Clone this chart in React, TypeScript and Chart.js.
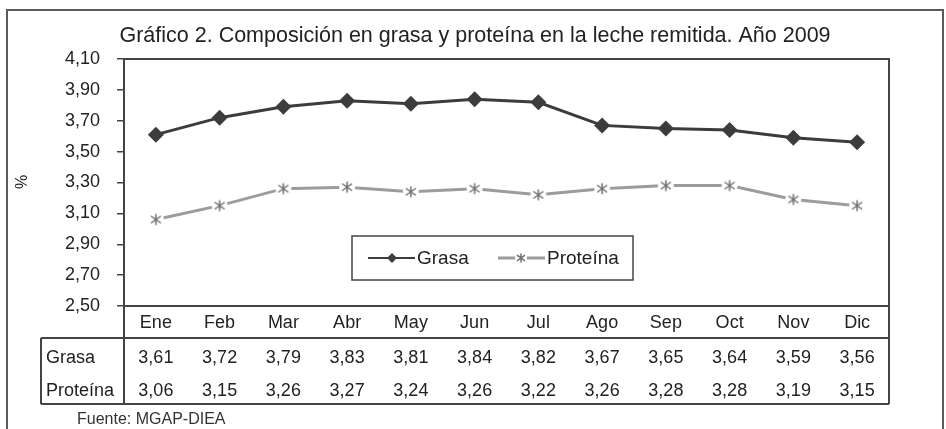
import React, { useEffect, useRef } from 'react';
import { Chart, registerables } from 'chart.js';

Chart.register(...registerables);

const months = ['Ene', 'Feb', 'Mar', 'Abr', 'May', 'Jun', 'Jul', 'Ago', 'Sep', 'Oct', 'Nov', 'Dic'];
const grasa = [3.61, 3.72, 3.79, 3.83, 3.81, 3.84, 3.82, 3.67, 3.65, 3.64, 3.59, 3.56];
const proteina = [3.06, 3.15, 3.26, 3.27, 3.24, 3.26, 3.22, 3.26, 3.28, 3.28, 3.19, 3.15];
const yTicks = [2.5, 2.7, 2.9, 3.1, 3.3, 3.5, 3.7, 3.9, 4.1];
const seriesNames = ['Grasa', 'Proteína'];
const chartTitle = 'Gráfico 2. Composición en grasa y proteína en la leche remitida. Año 2009';
const yTitle = '%';
const sourceText = 'Fuente: MGAP-DIEA';

const FONT = '"Liberation Sans", Arial, sans-serif';
const TEXT = '#222222';
const DARK = '#3c3c3c';
const GREY_LINE = '#9c9c9c';
const GREY_MARK = '#707070';

const fmt = (v: number) => v.toFixed(2).replace('.', ',');

function makeStar(size: number, disc: number, arm: number): HTMLCanvasElement {
  const c = document.createElement('canvas');
  c.width = size;
  c.height = size;
  const g = c.getContext('2d')!;
  const m = size / 2;
  g.fillStyle = '#ffffff';
  g.beginPath();
  g.arc(m, m, disc, 0, Math.PI * 2);
  g.fill();
  g.strokeStyle = GREY_MARK;
  g.lineWidth = 1.5;
  g.beginPath();
  g.moveTo(m, m - arm * 1.1);
  g.lineTo(m, m + arm * 1.1);
  g.moveTo(m - arm, m - arm * 0.7);
  g.lineTo(m + arm, m + arm * 0.7);
  g.moveTo(m + arm, m - arm * 0.7);
  g.lineTo(m - arm, m + arm * 0.7);
  g.stroke();
  return c;
}

export default function App() {
  const ref = useRef<HTMLCanvasElement | null>(null);

  useEffect(() => {
    if (!ref.current) return;
    const star = makeStar(20, 8, 5);
    const legendStar = makeStar(16, 6, 4);

    const decor = {
      id: 'decor',
      afterDraw(chart: any) {
        const { ctx, chartArea: a } = chart;
        const x = chart.scales.x;
        ctx.save();

        // outer frame
        ctx.strokeStyle = '#5a5a5a';
        ctx.lineWidth = 2;
        ctx.strokeRect(7, 10, 936, 440);

        // title
        ctx.fillStyle = TEXT;
        ctx.font = `21.5px ${FONT}`;
        ctx.textAlign = 'center';
        ctx.textBaseline = 'middle';
        ctx.fillText(chartTitle, 475, 36);

        // y title
        ctx.save();
        ctx.translate(23, 182);
        ctx.rotate(-Math.PI / 2);
        ctx.font = `16px ${FONT}`;
        ctx.fillText(yTitle, 0, 0);
        ctx.restore();

        // plot frame
        ctx.strokeStyle = '#444';
        ctx.lineWidth = 2;
        ctx.strokeRect(a.left, a.top, a.right - a.left, a.bottom - a.top);

        // data table
        const tableLeft = 41;
        const rowTop = a.bottom + 32;
        const rowH = 33;
        const tableBottom = rowTop + rowH * 2;
        ctx.beginPath();
        ctx.moveTo(tableLeft, rowTop);
        ctx.lineTo(a.right, rowTop);
        ctx.moveTo(tableLeft, tableBottom);
        ctx.lineTo(a.right, tableBottom);
        ctx.moveTo(tableLeft, rowTop);
        ctx.lineTo(tableLeft, tableBottom);
        ctx.moveTo(a.left, a.bottom);
        ctx.lineTo(a.left, tableBottom);
        ctx.moveTo(a.right, a.bottom);
        ctx.lineTo(a.right, tableBottom);
        ctx.stroke();

        ctx.font = `18px ${FONT}`;
        ctx.fillStyle = TEXT;
        ctx.textBaseline = 'middle';
        const rows = [grasa, proteina];
        rows.forEach((vals, r) => {
          const cy = rowTop + rowH * r + 20;
          ctx.textAlign = 'left';
          ctx.fillText(seriesNames[r], 46, cy);
          ctx.textAlign = 'center';
          vals.forEach((v, i) => ctx.fillText(fmt(v), x.getPixelForValue(i), cy));
        });

        // legend
        const lx = 352, ly = 236, lw = 281, lh = 44;
        ctx.fillStyle = '#fff';
        ctx.fillRect(lx, ly, lw, lh);
        ctx.strokeStyle = '#444';
        ctx.lineWidth = 1.5;
        ctx.strokeRect(lx, ly, lw, lh);
        const cy = ly + lh / 2;
        ctx.strokeStyle = DARK;
        ctx.lineWidth = 2;
        ctx.beginPath();
        ctx.moveTo(368, cy);
        ctx.lineTo(415, cy);
        ctx.stroke();
        ctx.fillStyle = DARK;
        ctx.beginPath();
        ctx.moveTo(392, cy - 5);
        ctx.lineTo(397, cy);
        ctx.lineTo(392, cy + 5);
        ctx.lineTo(387, cy);
        ctx.closePath();
        ctx.fill();
        ctx.strokeStyle = GREY_LINE;
        ctx.lineWidth = 3;
        ctx.beginPath();
        ctx.moveTo(498, cy);
        ctx.lineTo(545, cy);
        ctx.stroke();
        ctx.drawImage(legendStar, 521 - 8, cy - 8);
        ctx.fillStyle = TEXT;
        ctx.font = `19px ${FONT}`;
        ctx.textAlign = 'left';
        ctx.fillText(seriesNames[0], 417, cy + 1);
        ctx.fillText(seriesNames[1], 547, cy + 1);

        // source
        ctx.font = `16px ${FONT}`;
        ctx.fillStyle = '#333';
        ctx.fillText(sourceText, 77, 420);

        ctx.restore();
      },
    };

    const chart = new Chart(ref.current, {
      type: 'line',
      data: {
        labels: months,
        datasets: [
          {
            label: seriesNames[0],
            data: grasa,
            borderColor: DARK,
            backgroundColor: DARK,
            borderWidth: 3,
            pointStyle: 'rectRot',
            pointRadius: 8,
            pointBorderWidth: 0,
            pointBackgroundColor: DARK,
            tension: 0,
          },
          {
            label: seriesNames[1],
            data: proteina,
            borderColor: GREY_LINE,
            backgroundColor: GREY_LINE,
            borderWidth: 3,
            pointStyle: star as any,
            pointRadius: 8,
            tension: 0,
          },
        ],
      },
      options: {
        animation: false,
        responsive: true,
        maintainAspectRatio: false,
        layout: { padding: { left: 0, right: 57, top: 59, bottom: 91 } },
        plugins: {
          legend: { display: false },
          title: { display: false },
          tooltip: { enabled: false },
        },
        scales: {
          x: {
            type: 'category',
            offset: true,
            grid: { display: false, drawTicks: false },
            border: { display: true, color: '#444', width: 2 },
            ticks: {
              color: TEXT,
              font: { family: FONT, size: 18 },
              padding: 6,
              maxRotation: 0,
              autoSkip: false,
            },
            afterFit: (s: any) => {
              s.height = 32;
            },
          },
          y: {
            min: 2.5,
            max: 4.1,
            grid: { drawOnChartArea: false, drawTicks: true, tickLength: 7, color: '#444', lineWidth: 1.5 },
            border: { display: true, color: '#444', width: 2 },
            ticks: {
              color: TEXT,
              font: { family: FONT, size: 18 },
              padding: 17,
              callback: (v: any) => fmt(Number(v)),
            },
            afterBuildTicks: (s: any) => {
              s.ticks = yTicks.map((v) => ({ value: v }));
            },
            afterFit: (s: any) => {
              s.width = 124;
            },
          },
        },
      },
      plugins: [decor],
    });
    return () => chart.destroy();
  }, []);

  return (
    <div style={{ position: 'fixed', left: 0, top: 0, width: 946, height: 429, background: '#fff' }}>
      <canvas ref={ref} />
    </div>
  );
}
